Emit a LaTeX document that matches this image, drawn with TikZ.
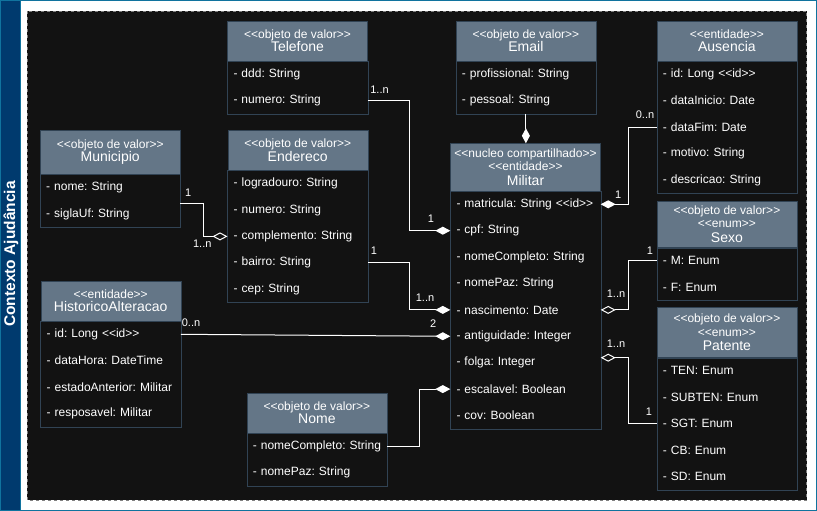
\documentclass[tikz,border=0pt]{standalone}
\usepackage{fontspec}
\newfontfamily\umlfont{Liberation Sans}
\usetikzlibrary{positioning,arrows.meta}
\definecolor{bgdark}{HTML}{121212}
\definecolor{headfill}{HTML}{647687}
\definecolor{headline}{HTML}{314354}
\definecolor{bandblue}{HTML}{003A6E}
\definecolor{frameblue}{HTML}{10739E}

\begin{document}
\begin{tikzpicture}[x=1pt,y=-1pt,node distance=0pt,
				head/.style={draw=headline,fill=headfill,text=white,minimum width=140pt,inner sep=0pt,anchor=north west,align=center,font=\umlfont\fontsize{12}{13.5}\selectfont},
				row/.style={text=white,text width=128pt,inner xsep=6pt,inner ysep=0pt,minimum height=26pt,align=left,font=\umlfont\fontsize{12}{14}\selectfont\frenchspacing,
					execute at begin node={\leavevmode\hbox\bgroup},execute at end node={\egroup}},
				body/.style={draw=headline},
				conn/.style={draw=white,line width=1pt},
				comp/.style={conn,-{Diamond[length=15pt,width=8pt]}},
				aggr/.style={conn,-{Diamond[open,length=15pt,width=8pt]}},
				mult/.style={text=white,inner sep=0pt,font=\umlfont\fontsize{11}{13}\selectfont}]
				\useasboundingbox (0,0) rectangle (817,511);
				\draw[frameblue,fill=white] (0.5,0.5) rectangle (816.5,510.5);
				\draw[frameblue,fill=bandblue] (0.5,0.5) rectangle (20.5,510.5);
				\draw[gray,dashed,fill=bgdark] (27,11) rectangle (806.5,500);
				\node[rotate=90,text=white,font=\umlfont\bfseries\fontsize{15.5}{17}\selectfont] (ctx) at (11,254) {Contexto Ajudância};
				
				\node[head,minimum height=40pt] (telh) at (227.3,20.7) {<<objeto de valor>>\\{\fontsize{14}{16}\selectfont Telefone}};
				\node[row,below=of telh] (tel1) {- ddd: String};
				\node[row,below=of tel1] (tel2) {- numero: String};
				\draw[body] (telh.south west) rectangle (tel2.south east);
				
				\node[head,minimum height=40pt] (emh) at (455.7,20.7) {<<objeto de valor>>\\{\fontsize{14}{16}\selectfont Email}};
				\node[row,below=of emh] (em1) {- profissional: String};
				\node[row,below=of em1] (em2) {- pessoal: String};
				\draw[body] (emh.south west) rectangle (em2.south east);
				
				\node[head,minimum height=40pt] (aush) at (656.7,20.7) {<<entidade>>\\{\fontsize{14}{16}\selectfont Ausencia}};
				\node[row,below=of aush] (aus1) {- id: Long <<id>>};
				\node[row,below=of aus1] (aus2) {- dataInicio: Date};
				\node[row,below=of aus2] (aus3) {- dataFim: Date};
				\node[row,below=of aus3] (aus4) {- motivo: String};
				\node[row,below=of aus4] (aus5) {- descricao: String};
				\draw[body] (aush.south west) rectangle (aus5.south east);
				
				\node[head,minimum height=44pt] (munh) at (40,130) {<<objeto de valor>>\\{\fontsize{14}{16}\selectfont Municipio}};
				\node[row,below=of munh] (mun1) {- nome: String};
				\node[row,below=of mun1] (mun2) {- siglaUf: String};
				\draw[body] (munh.south west) rectangle (mun2.south east);
				
				\node[head,minimum height=40pt] (endh) at (227.5,130) {<<objeto de valor>>\\{\fontsize{14}{16}\selectfont Endereco}};
				\node[row,below=of endh] (end1) {- logradouro: String};
				\node[row,below=of end1] (end2) {- numero: String};
				\node[row,below=of end2] (end3) {- complemento: String};
				\node[row,below=of end3] (end4) {- bairro: String};
				\node[row,below=of end4] (end5) {- cep: String};
				\draw[body] (endh.south west) rectangle (end5.south east);
				
				\node[head,minimum width=150pt,minimum height=47.4pt] (milh) at (450.3,143.3) {<<nucleo compartilhado>>\\<<entidade>>\\[1pt]{\fontsize{14}{16}\selectfont Militar}};
				\node[row,text width=138pt,below=of milh] (mil1) {- matricula: String <<id>>};
				\node[row,text width=138pt,below=of mil1] (mil2) {- cpf: String};
				\node[row,text width=138pt,below=of mil2] (mil3) {- nomeCompleto: String};
				\node[row,text width=138pt,below=of mil3] (mil4) {- nomePaz: String};
				\node[row,text width=138pt,below=of mil4] (mil5) {- nascimento: Date};
				\node[row,text width=138pt,below=of mil5] (mil6) {- antiguidade: Integer};
				\node[row,text width=138pt,below=of mil6] (mil7) {- folga: Integer};
				\node[row,text width=138pt,below=of mil7] (mil8) {- escalavel: Boolean};
				\node[row,text width=138pt,below=of mil8] (mil9) {- cov: Boolean};
				\draw[body] (milh.south west) rectangle (mil9.south east);
				
				\node[head,minimum height=46.6pt] (sexh) at (656.7,200.7) {<<objeto de valor>>\\<<enum>>\\[1pt]{\fontsize{14}{16}\selectfont Sexo}};
				\node[row,below=of sexh] (sex1) {- M: Enum};
				\node[row,below=of sex1] (sex2) {- F: Enum};
				\draw[body] (sexh.south west) rectangle (sex2.south east);
				
				\node[head,minimum height=50pt] (path) at (656.7,307.3) {<<objeto de valor>>\\<<enum>>\\[1pt]{\fontsize{14}{16}\selectfont Patente}};
				\node[row,below=of path] (pat1) {- TEN: Enum};
				\node[row,below=of pat1] (pat2) {- SUBTEN: Enum};
				\node[row,below=of pat2] (pat3) {- SGT: Enum};
				\node[row,below=of pat3] (pat4) {- CB: Enum};
				\node[row,below=of pat4] (pat5) {- SD: Enum};
				\draw[body] (path.south west) rectangle (pat5.south east);
				
				\node[head,minimum height=40pt] (hish) at (40.5,280.7) {<<entidade>>\\{\fontsize{14}{16}\selectfont HistoricoAlteracao}};
				\node[row,below=of hish] (his1) {- id: Long <<id>>};
				\node[row,below=of his1] (his2) {- dataHora: DateTime};
				\node[row,below=of his2] (his3) {- estadoAnterior: Militar};
				\node[row,below=of his3] (his4) {- resposavel: Militar};
				\draw[body] (hish.south west) rectangle (his4.south east);
				
				\node[head,minimum height=40pt] (nomh) at (246.7,392.7) {<<objeto de valor>>\\{\fontsize{14}{16}\selectfont Nome}};
				\node[row,below=of nomh] (nom1) {- nomeCompleto: String};
				\node[row,below=of nom1] (nom2) {- nomePaz: String};
				\draw[body] (nomh.south west) rectangle (nom2.south east);
				
				\draw[comp] (tel2.east) -- ++(42,0) |- (mil2.west);
				\draw[comp] (em2.south) -- (em2.south |- milh.north);
				\draw[comp] (aus3.west) -- ++(-28.4,0) |- (mil1.east);
				\draw[aggr] (sex1.west) -- ++(-28.4,0) |- (mil5.east);
				\draw[aggr] (pat3.west) -- ++(-28.4,0) |- ([yshift=5pt]mil7.east);
				\draw[aggr] ([yshift=11pt]mun2.east) -- ++(23.3,0) |- (end3.west);
				\draw[comp] (end4.east) -- ++(41.5,0) |- (mil5.west);
				\draw[comp] (his1.east) -- (mil6.west);
				\draw[comp] (nom1.east) -- ++(32.3,0) |- (mil8.west);
				
				\node[mult] (mtel)  at (379.5,89.3)  {1..n};
				\node[mult] (mmil2) at (431,218.3)   {1};
				\node[mult] (maus)  at (645,115)     {0..n};
				\node[mult] (mmil1) at (618.3,195)   {1};
				\node[mult] (msex)  at (650,251)     {1};
				\node[mult] (mmil5) at (616,294)     {1..n};
				\node[mult] (mmil7) at (616,343.3)   {1..n};
				\node[mult] (mpat)  at (649,411.7)   {1};
				\node[mult] (mmun)  at (188.3,192.3) {1};
				\node[mult] (mend3) at (202.3,243.3) {1..n};
				\node[mult] (mend4) at (374,251)     {1};
				\node[mult] (mmil5b) at (425,297.3)  {1..n};
				\node[mult] (mhis)  at (191,322.7)   {0..n};
				\node[mult] (mmil6) at (433.3,323.3) {2};
			\end{tikzpicture}
\end{document}
